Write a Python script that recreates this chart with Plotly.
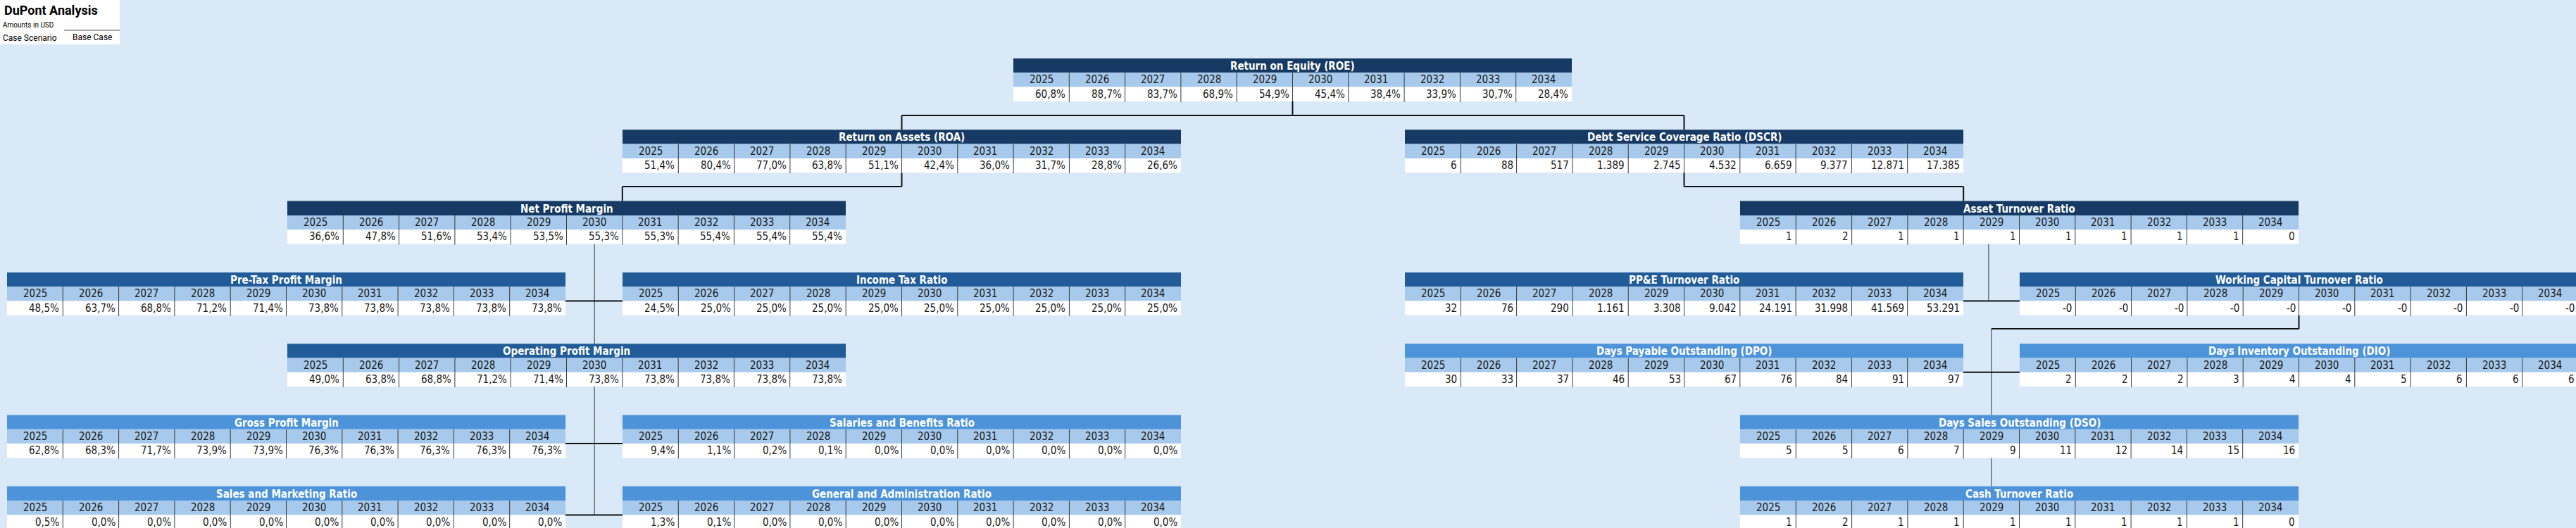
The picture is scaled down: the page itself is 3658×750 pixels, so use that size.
import plotly.graph_objects as go

# years shown in every table
years = ["2025", "2026", "2027", "2028", "2029", "2030", "2031", "2032", "2033", "2034"]

# ratio values (percent tables in %)
roe = [60.8, 88.7, 83.7, 68.9, 54.9, 45.4, 38.4, 33.9, 30.7, 28.4]
roa = [51.4, 80.4, 77.0, 63.8, 51.1, 42.4, 36.0, 31.7, 28.8, 26.6]
dscr = [6, 88, 517, 1389, 2745, 4532, 6659, 9377, 12871, 17385]
net_margin = [36.6, 47.8, 51.6, 53.4, 53.5, 55.3, 55.3, 55.4, 55.4, 55.4]
asset_turn = [1, 2, 1, 1, 1, 1, 1, 1, 1, 0]
pretax_margin = [48.5, 63.7, 68.8, 71.2, 71.4, 73.8, 73.8, 73.8, 73.8, 73.8]
tax_ratio = [24.5, 25.0, 25.0, 25.0, 25.0, 25.0, 25.0, 25.0, 25.0, 25.0]
ppe_turn = [32, 76, 290, 1161, 3308, 9042, 24191, 31998, 41569, 53291]
wc_turn = [-0.0, -0.0, -0.0, -0.0, -0.0, -0.0, -0.0, -0.0, -0.0, -0.0]
op_margin = [49.0, 63.8, 68.8, 71.2, 71.4, 73.8, 73.8, 73.8, 73.8, 73.8]
dpo = [30, 33, 37, 46, 53, 67, 76, 84, 91, 97]
dio = [2, 2, 2, 3, 4, 4, 5, 6, 6, 6]
gross_margin = [62.8, 68.3, 71.7, 73.9, 73.9, 76.3, 76.3, 76.3, 76.3, 76.3]
salaries_ratio = [9.4, 1.1, 0.2, 0.1, 0.0, 0.0, 0.0, 0.0, 0.0, 0.0]
dso = [5, 5, 6, 7, 9, 11, 12, 14, 15, 16]
sales_mkt_ratio = [0.5, 0.0, 0.0, 0.0, 0.0, 0.0, 0.0, 0.0, 0.0, 0.0]
ga_ratio = [1.3, 0.1, 0.0, 0.0, 0.0, 0.0, 0.0, 0.0, 0.0, 0.0]
cash_turn = [1, 2, 1, 1, 1, 1, 1, 1, 1, 0]

BG = "#DAE9F8"
NAVY = "#163A63"
MID = "#215C98"
LIGHT = "#4D93D9"
YEAR_BG = "#A6C9EC"
FONT = "Liberation Sans Narrow, DejaVu Sans Condensed, Arial Narrow, Roboto, sans-serif"

W, H = 3658, 750
TAB_W = 793
ROW = 20.3
TOP0 = 83
STEP = 101.3
# left edge of each sheet column block
COLX = {"A": 10, "B": 408, "C": 884, "D": 1439, "E": 1995, "F": 2471, "G": 2868}


def pct(v):
    return f"{v:.1f}".replace(".", ",") + "%"


def num(v):
    return f"{v:,.0f}".replace(",", ".")


tables = [
    ("Return on Equity (ROE)", roe, pct, "D", 0, NAVY),
    ("Return on Assets (ROA)", roa, pct, "C", 1, NAVY),
    ("Debt Service Coverage Ratio (DSCR)", dscr, num, "E", 1, NAVY),
    ("Net Profit Margin", net_margin, pct, "B", 2, NAVY),
    ("Asset Turnover Ratio", asset_turn, num, "F", 2, NAVY),
    ("Pre-Tax Profit Margin", pretax_margin, pct, "A", 3, MID),
    ("Income Tax Ratio", tax_ratio, pct, "C", 3, MID),
    ("PP&E Turnover Ratio", ppe_turn, num, "E", 3, MID),
    ("Working Capital Turnover Ratio", wc_turn, num, "G", 3, MID),
    ("Operating Profit Margin", op_margin, pct, "B", 4, MID),
    ("Days Payable Outstanding (DPO)", dpo, num, "E", 4, LIGHT),
    ("Days Inventory Outstanding (DIO)", dio, num, "G", 4, LIGHT),
    ("Gross Profit Margin", gross_margin, pct, "A", 5, LIGHT),
    ("Salaries and Benefits Ratio", salaries_ratio, pct, "C", 5, LIGHT),
    ("Days Sales Outstanding (DSO)", dso, num, "F", 5, LIGHT),
    ("Sales and Marketing Ratio", sales_mkt_ratio, pct, "A", 6, LIGHT),
    ("General and Administration Ratio", ga_ratio, pct, "C", 6, LIGHT),
    ("Cash Turnover Ratio", cash_turn, num, "F", 6, LIGHT),
]

shapes = []
annots = []


def top(level):
    return TOP0 + STEP * level


def line(x0, y0, x1, y1, w=2, c="#111111"):
    shapes.append(dict(type="line", xref="x", yref="y", x0=x0, y0=y0, x1=x1, y1=y1,
                       line=dict(color=c, width=w)))


cw = TAB_W / 10
bx = lambda col, k: COLX[col] + k * cw
bot = lambda level: top(level) + 3 * ROW
mid = lambda level: top(level) + 2 * ROW

# connectors
line(bx("D", 5), bot(0), bx("D", 5), 164)
line(bx("C", 5), 164, bx("E", 5), 164)
line(bx("C", 5), 164, bx("C", 5), top(1))
line(bx("E", 5), 164, bx("E", 5), top(1))
line(bx("C", 5), bot(1), bx("C", 5), 265)
line(bx("B", 6), 265, bx("C", 5), 265)
line(bx("B", 6), 265, bx("B", 6), top(2))
line(bx("E", 5), bot(1), bx("E", 5), 265)
line(bx("E", 5), 265, bx("F", 4), 265)
line(bx("F", 4), 265, bx("F", 4), top(2))
# net profit margin branch
line(bx("B", 5.5), bot(2), bx("B", 5.5), top(4), w=1, c="#333333")
line(bx("A", 10), mid(3), COLX["C"], mid(3))
line(bx("B", 5.5), bot(4), bx("B", 5.5), mid(6), w=1, c="#333333")
line(bx("A", 10), mid(5), COLX["C"], mid(5))
line(bx("A", 10), mid(6), COLX["C"], mid(6))
# asset turnover branch
line(bx("F", 4.45), bot(2), bx("F", 4.45), mid(3), w=1, c="#333333")
line(bx("E", 10), mid(3), COLX["G"], mid(3))
line(bx("G", 5), bot(3), bx("G", 5), 467)
line(bx("F", 4.5), 467, bx("G", 5), 467)
line(bx("F", 4.5), 467, bx("F", 4.5), top(5), w=1, c="#333333")
line(bx("E", 10), mid(4), COLX["G"], mid(4))
line(bx("F", 4.5), bot(5), bx("F", 4.5), top(6), w=1, c="#333333")

# tables
for title, vals, fmt, col, level, head in tables:
    x0 = COLX[col]
    y0 = top(level)
    x1 = x0 + TAB_W
    shapes.append(dict(type="rect", xref="x", yref="y", x0=x0, x1=x1, y0=y0, y1=y0 + ROW,
                       fillcolor=head, line=dict(width=0)))
    shapes.append(dict(type="rect", xref="x", yref="y", x0=x0, x1=x1, y0=y0 + ROW, y1=y0 + 2 * ROW,
                       fillcolor=YEAR_BG, line=dict(width=0)))
    shapes.append(dict(type="rect", xref="x", yref="y", x0=x0, x1=x1, y0=y0 + 2 * ROW, y1=y0 + 3 * ROW,
                       fillcolor="white", line=dict(width=0)))
    for k in range(1, 10):
        line(x0 + k * cw, y0 + ROW, x0 + k * cw, y0 + 3 * ROW + 1, w=1, c="#3a3a3a")
    annots.append(dict(x=(x0 + x1) / 2, y=y0 + ROW / 2 + 1, text="<b>" + title + "</b>",
                       font=dict(color="white", size=15, family=FONT)))
    for k, (yr, v) in enumerate(zip(years, vals)):
        annots.append(dict(x=x0 + (k + 0.5) * cw, y=y0 + 1.5 * ROW, text=yr,
                           font=dict(color="#1a1a1a", size=15, family=FONT)))
        annots.append(dict(x=x0 + (k + 1) * cw - 3, y=y0 + 2.5 * ROW, text=fmt(v), xanchor="right",
                           font=dict(color="#1a1a1a", size=15, family=FONT)))

# header block top-left
shapes.append(dict(type="rect", xref="x", yref="y", x0=0, x1=170, y0=0, y1=63,
                   fillcolor="white", line=dict(width=0), layer="below"))
line(91, 43, 170, 43, w=1, c="#555555")
annots.append(dict(x=4, y=14, text="<b>DuPont Analysis</b>", xanchor="left",
                   font=dict(color="black", size=18, family="Roboto, sans-serif")))
annots.append(dict(x=2, y=35, text="Amounts in USD", xanchor="left",
                   font=dict(color="black", size=10, family="Roboto, sans-serif")))
annots.append(dict(x=2, y=54, text="Case Scenario", xanchor="left",
                   font=dict(color="black", size=12, family="Roboto, sans-serif")))
annots.append(dict(x=131, y=53, text="Base Case",
                   font=dict(color="black", size=12, family="Roboto, sans-serif")))

for a in annots:
    a.update(xref="x", yref="y", showarrow=False)
    a.setdefault("xanchor", "center")
    a.setdefault("yanchor", "middle")

fig = go.Figure()
fig.add_trace(go.Scatter(x=[0, W], y=[0, H], mode="markers", marker=dict(opacity=0),
                         hoverinfo="skip", showlegend=False))
fig.update_layout(
    width=W, height=H,
    margin=dict(l=0, r=0, t=0, b=0),
    paper_bgcolor=BG, plot_bgcolor=BG,
    shapes=shapes, annotations=annots,
    xaxis=dict(range=[0, W], visible=False, fixedrange=True),
    yaxis=dict(range=[H, 0], visible=False, fixedrange=True),
    showlegend=False,
)
fig.write_html("out.html", config={"displayModeBar": False},
               post_script="document.body.style.margin='0';document.body.style.overflow='hidden';")
